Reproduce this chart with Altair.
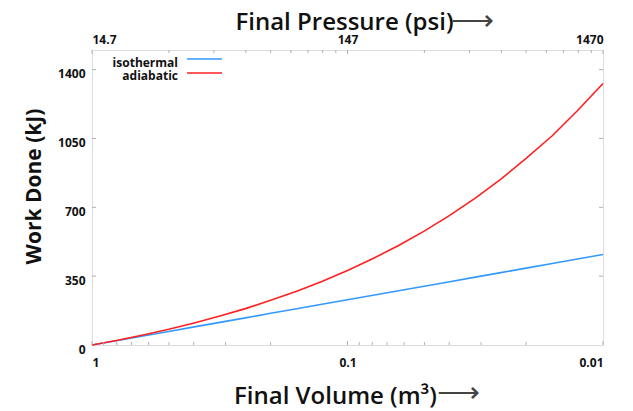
import altair as alt
import pandas as pd

# ---- data ----
volumes = [1, 0.794, 0.631, 0.501, 0.398, 0.316, 0.251, 0.2, 0.158, 0.126, 0.1,
           0.0794, 0.0631, 0.0501, 0.0398, 0.0316, 0.0251, 0.02, 0.0158, 0.0126, 0.01]
isothermal = [0, 23, 46, 69, 92, 115, 138, 161, 184, 207, 230,
              253, 276, 299, 322, 345, 368, 391, 414, 437, 460]
adiabatic = [0, 24, 51, 80, 112, 147, 185, 227, 273, 323, 379,
             440, 506, 579, 659, 747, 843, 949, 1064, 1191, 1330]
series_names = ["isothermal", "adiabatic"]
series_colors = ["#3399ff", "#ff2020"]

vol_major = [1, 0.1, 0.01]
vol_labels = ["1", "0.1", "0.01"]
vol_minor = [0.9, 0.8, 0.7, 0.6, 0.5, 0.4, 0.3, 0.2,
             0.09, 0.08, 0.07, 0.06, 0.05, 0.04, 0.03, 0.02]
p_ref = 14.7
p_major_labels = ["14.7", "147", "1470"]
p_minor = [29.4, 44.1, 58.8, 73.5, 88.2, 102.9, 117.6, 132.3,
           294, 441, 588, 735, 882, 1029, 1176, 1323]
y_ticks = [0, 350, 700, 1050, 1400]
arrow = ["⟶"]

W, H = 511, 295
FONT = "Open Sans"
GRID = "#b0b0b0"

rows = []
for name, vals in zip(series_names, [isothermal, adiabatic]):
    for v, w in zip(volumes, vals):
        rows.append({"V": v, "W": w, "series": name})
df = pd.DataFrame(rows)

xscale = alt.Scale(type="log", domain=[0.01, 1], reverse=True)
yscale = alt.Scale(domain=[0, 1500], nice=False)

bottom_label_expr = " : ".join(
    [f"datum.value == {v} ? '{l}'" for v, l in zip(vol_major, vol_labels)]) + " : ''"
top_label_expr = " : ".join(
    [f"datum.value == {v} ? '{l}'" for v, l in zip(vol_major, p_major_labels)]) + " : ''"

lines = alt.Chart(df).mark_line(strokeWidth=1.6).encode(
    x=alt.X("V:Q", scale=xscale, axis=alt.Axis(
        orient="bottom", values=vol_major, labelExpr=bottom_label_expr,
        ticks=False, domain=False, grid=False, labelPadding=12,
        labelFont=FONT, labelFontSize=12, labelFontWeight="bold", labelColor="#111",
        title="Final Volume (m³)", titleFont=FONT, titleFontSize=24,
        titleFontWeight=600, titleColor="#111", titleX=243, titleY=58,
        titleBaseline="alphabetic", titleAlign="center")),
    y=alt.Y("W:Q", scale=yscale, axis=alt.Axis(
        orient="left", values=y_ticks, format="d", ticks=False, domain=False, grid=False,
        labelPadding=7, labelOffset=4, labelFont=FONT, labelFontSize=12,
        labelFontWeight="bold", labelColor="#111", title="Work Done (kJ)",
        titleFont=FONT, titleFontSize=21, titleFontWeight="bold", titleColor="#111",
        titleX=-52, titleY=136, titleBaseline="alphabetic", titleAlign="center",
        titleAngle=270)),
    color=alt.Color("series:N", scale=alt.Scale(domain=series_names, range=series_colors),
                    legend=None),
)

# top axis (pressure) carried by the top tick layer
top_major = alt.Chart(pd.DataFrame({"V": vol_major})).mark_rule(color=GRID, strokeWidth=1).encode(
    x=alt.X("V:Q", scale=xscale, axis=alt.Axis(
        orient="top", values=vol_major, labelExpr=top_label_expr,
        ticks=False, domain=False, grid=False, labelPadding=4,
        labelFont=FONT, labelFontSize=12, labelFontWeight="bold", labelColor="#111",
        title="Final Pressure (psi)", titleFont=FONT, titleFontSize=24,
        titleFontWeight=600, titleColor="#111", titleX=252, titleY=-21,
        titleBaseline="alphabetic", titleAlign="center")),
    y=alt.value(0), y2=alt.value(4),
)
top_minor = alt.Chart(pd.DataFrame({"V": [p_ref / p for p in p_minor]})).mark_rule(
    color=GRID, strokeWidth=1).encode(
    x=alt.X("V:Q", scale=xscale, axis=None), y=alt.value(0), y2=alt.value(3))

bot_major = alt.Chart(pd.DataFrame({"V": vol_major})).mark_rule(color=GRID, strokeWidth=1).encode(
    x=alt.X("V:Q", scale=xscale, axis=None), y=alt.value(H), y2=alt.value(H - 4))
bot_minor = alt.Chart(pd.DataFrame({"V": vol_minor})).mark_rule(color=GRID, strokeWidth=1).encode(
    x=alt.X("V:Q", scale=xscale, axis=None), y=alt.value(H), y2=alt.value(H - 3))

ytick_df = pd.DataFrame({"W": y_ticks[1:]})
left_ticks = alt.Chart(ytick_df).mark_rule(color=GRID, strokeWidth=1).encode(
    y=alt.Y("W:Q", scale=yscale, axis=None), x=alt.value(0), x2=alt.value(4))
right_ticks = alt.Chart(ytick_df).mark_rule(color=GRID, strokeWidth=1).encode(
    y=alt.Y("W:Q", scale=yscale, axis=None), x=alt.value(W), x2=alt.value(W - 4))

# thin arrows after the axis titles
adf = pd.DataFrame({"a": arrow})
arrow_top = alt.Chart(adf).mark_text(
    align="left", baseline="middle", font="DejaVu Sans", fontSize=30, fontWeight=200,
    color="#444").encode(text="a:N", x=alt.value(359), y=alt.value(-29))
arrow_bot = alt.Chart(adf).mark_text(
    align="left", baseline="middle", font="DejaVu Sans", fontSize=30, fontWeight=200,
    color="#444").encode(text="a:N", x=alt.value(345), y=alt.value(H + 48))

legend_layers = []
for i, (name, col) in enumerate(zip(series_names, series_colors)):
    ldf = pd.DataFrame({"s": [name]})
    legend_layers.append(alt.Chart(ldf).mark_text(
        align="right", baseline="middle", font=FONT, fontSize=12, fontWeight="bold",
        color="#111").encode(text="s:N", x=alt.value(86), y=alt.value(13 + 13 * i)))
    legend_layers.append(alt.Chart(ldf).mark_rule(color=col, strokeWidth=1.6).encode(
        x=alt.value(95), x2=alt.value(130), y=alt.value(9 + 14 * i)))

chart = alt.layer(
    lines, top_major, top_minor, bot_major, bot_minor, left_ticks, right_ticks,
    arrow_top, arrow_bot, *legend_layers
).resolve_axis(x="independent", y="independent").properties(
    width=W, height=H,
    autosize=alt.AutoSizeParams(type="none"),
    padding={"left": 84, "top": 42, "right": 22, "bottom": 64},
).configure_view(stroke="#b8b8b8", strokeWidth=1.6).configure(background="white")

chart.save("out.html", embed_options={"renderer": "svg", "actions": False})
